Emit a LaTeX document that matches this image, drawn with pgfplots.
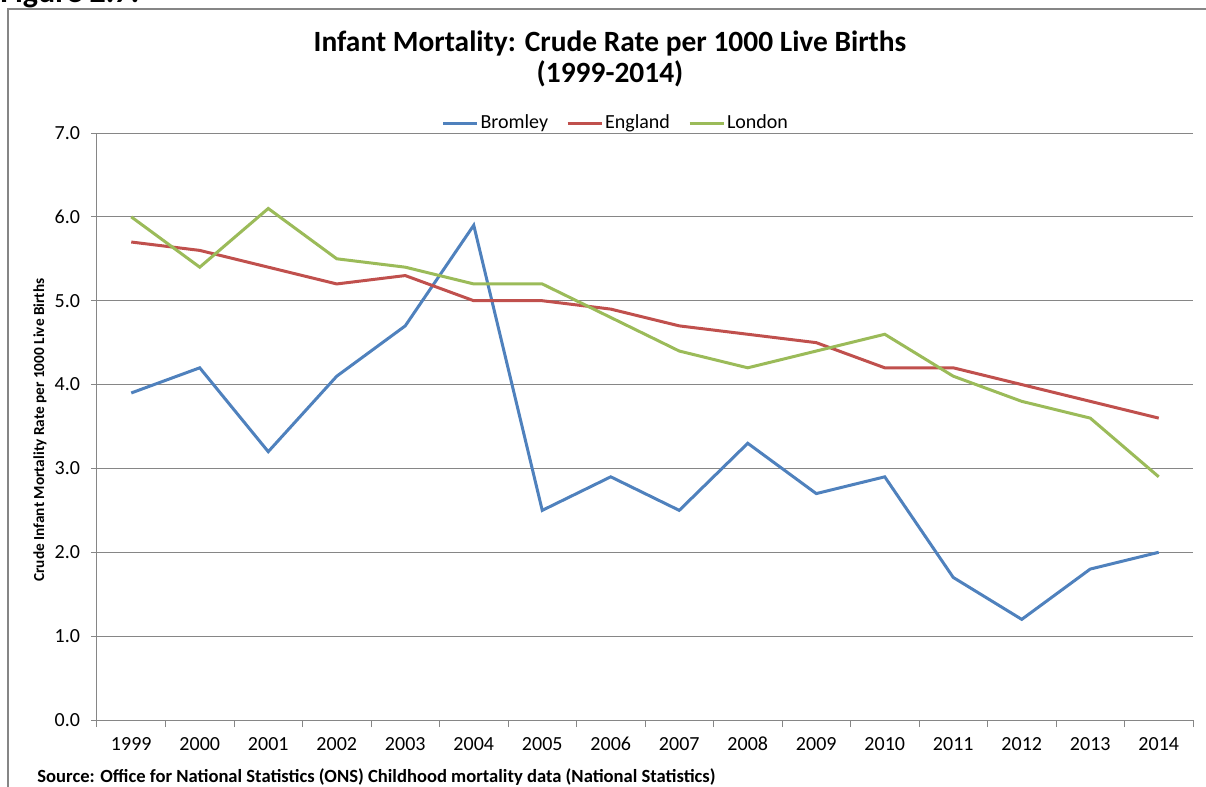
\documentclass[border=0pt]{standalone}
\usepackage{pgfplots}
\pgfplotsset{compat=1.18}
\usepackage{fontspec}
\setmainfont{Carlito}
\definecolor{cblue}{HTML}{4F81BD}
\definecolor{cred}{HTML}{C0504D}
\definecolor{cgreen}{HTML}{9BBB59}
\definecolor{cgrid}{HTML}{868686}
\begin{document}
\begin{tikzpicture}
\useasboundingbox (0,0) rectangle (603pt,-393.5pt);
\begin{scope}
\clip (0,0) rectangle (603pt,-393.5pt);
\draw[cgrid, line width=0.75pt] (4pt,-4.5pt) rectangle (620pt,-410pt);
\node[anchor=base west, font=\bfseries\fontsize{16}{18}\selectfont, inner sep=0] at (0pt,-1.2pt) {Figure 2.7:};
\end{scope}
\node[font=\bfseries\fontsize{14.7}{17}\selectfont, anchor=base, inner sep=0] at (305pt,-25.5pt) {Infant Mortality: Crude Rate per 1000 Live Births};
\node[font=\bfseries\fontsize{14.7}{17}\selectfont, anchor=base, inner sep=0] at (305pt,-41.5pt) {(1999-2014)};
\node[rotate=90, font=\bfseries\fontsize{7.65}{9}\selectfont, inner sep=0] at (20pt,-215pt) {Crude Infant Mortality Rate per 1000 Live Births};
\node[anchor=base west, font=\bfseries\fontsize{9.3}{11}\selectfont, inner sep=0] at (18.5pt,-391pt) {Source: Office for National Statistics (ONS) Childhood mortality data (National Statistics)};
\begin{axis}[
  at={(48.5pt,-360pt)}, anchor=south west,
  scale only axis, width=548pt, height=293.5pt,
  xmin=0, xmax=16, ymin=0, ymax=7,
  axis x line*=bottom, axis y line*=left,
  axis line style={draw=cgrid, line width=0.5pt, -},
  ytick={0,1,...,7},
  yticklabel style={xshift=-2pt, /pgf/number format/.cd, fixed, fixed zerofill, precision=1},
  xtick={0.5,1.5,...,15.5},
  xticklabels={1999,2000,2001,2002,2003,2004,2005,2006,2007,2008,2009,2010,2011,2012,2013,2014},
  minor xtick={0,1,...,16},
  tick align=outside,
  major tick length=3pt, minor tick length=3.5pt,
  tick style={draw=cgrid, line width=0.5pt},
  major x tick style={draw=none},
  ymajorgrids=true,
  grid style={draw=cgrid, line width=0.5pt},
  tick label style={font=\fontsize{10}{12}\selectfont},
  /pgf/number format/assume math mode=true,
  xticklabel style={yshift=-2pt},
  legend style={at={(0.4825,1)}, anchor=south, xshift=-5pt, yshift=-0.5pt, draw=none, fill=none,
    legend columns=3, font=\fontsize{10}{12}\selectfont,
    nodes={inner sep=1pt},
    /tikz/every even column/.append style={column sep=8pt},
    /tikz/every odd column/.append style={column sep=0pt},
    inner sep=0pt},
  legend image code/.code={\draw[#1] (0pt,0pt) -- (17pt,0pt);},
  every axis plot/.append style={line width=1.5pt},
]
\addplot[cblue] coordinates {(0.5,3.9)(1.5,4.2)(2.5,3.2)(3.5,4.1)(4.5,4.7)(5.5,5.9)(6.5,2.5)(7.5,2.9)(8.5,2.5)(9.5,3.3)(10.5,2.7)(11.5,2.9)(12.5,1.7)(13.5,1.2)(14.5,1.8)(15.5,2.0)};
\addlegendentry{Bromley}
\addplot[cred] coordinates {(0.5,5.7)(1.5,5.6)(2.5,5.4)(3.5,5.2)(4.5,5.3)(5.5,5.0)(6.5,5.0)(7.5,4.9)(8.5,4.7)(9.5,4.6)(10.5,4.5)(11.5,4.2)(12.5,4.2)(13.5,4.0)(14.5,3.8)(15.5,3.6)};
\addlegendentry{England}
\addplot[cgreen] coordinates {(0.5,6.0)(1.5,5.4)(2.5,6.1)(3.5,5.5)(4.5,5.4)(5.5,5.2)(6.5,5.2)(7.5,4.8)(8.5,4.4)(9.5,4.2)(10.5,4.4)(11.5,4.6)(12.5,4.1)(13.5,3.8)(14.5,3.6)(15.5,2.9)};
\addlegendentry{London}
\end{axis}
\end{tikzpicture}
\end{document}
